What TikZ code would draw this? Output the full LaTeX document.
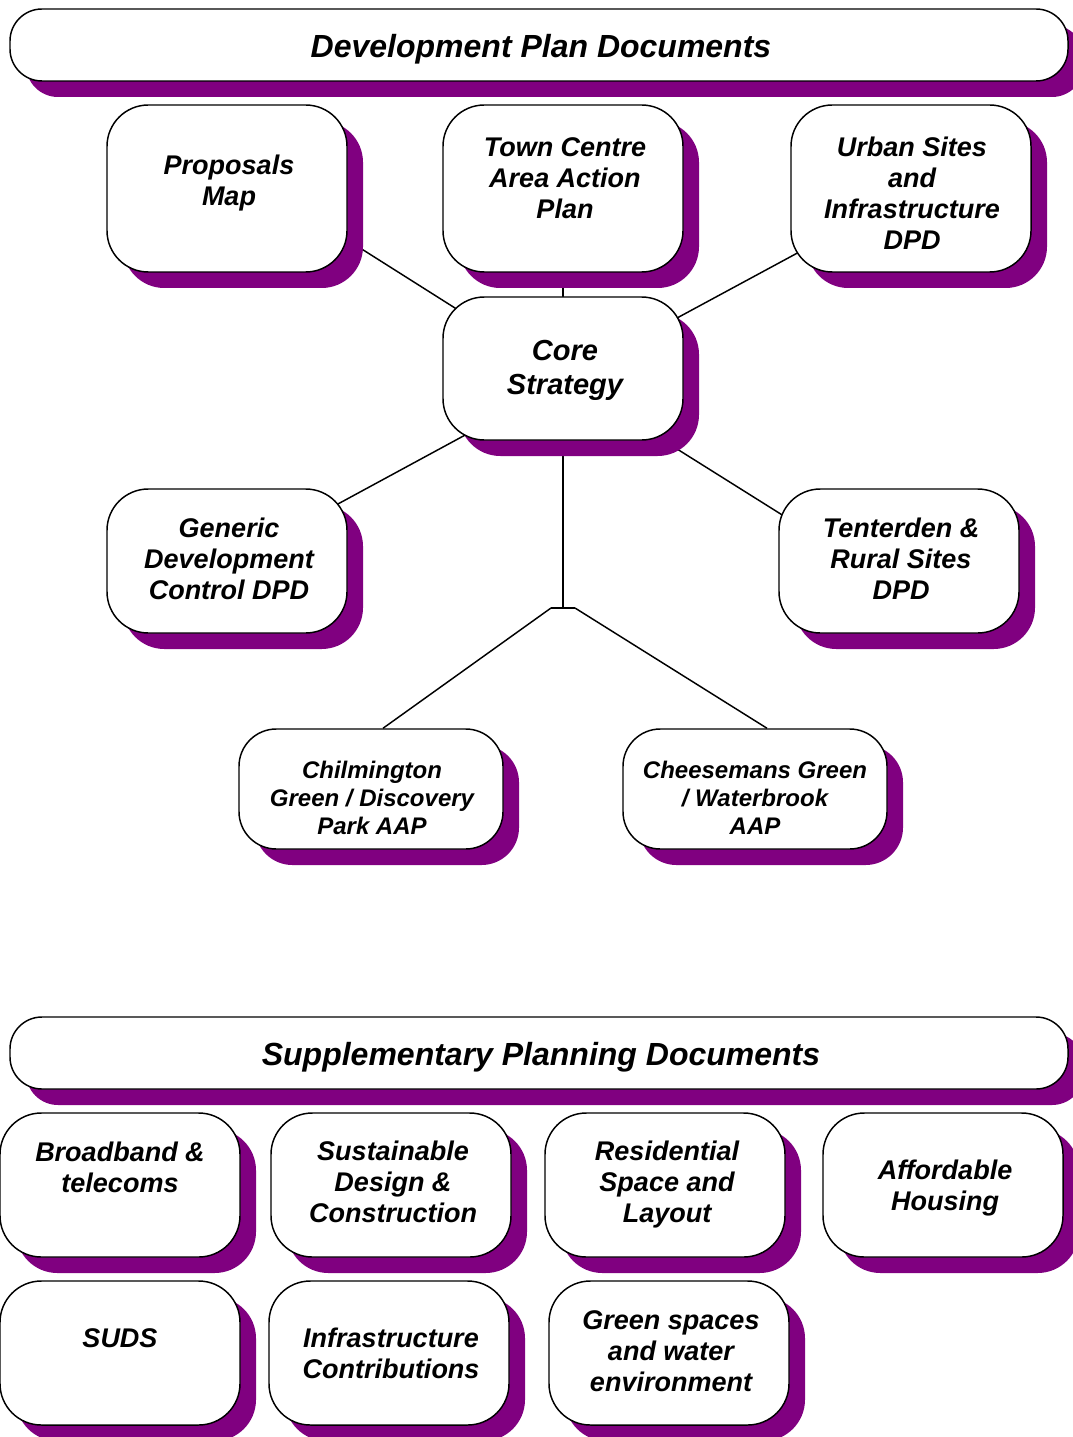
\documentclass[tikz,border=0pt]{standalone}
\usepackage{fontspec}
\setmainfont{Liberation Sans}
\usetikzlibrary{shadows,backgrounds,calc}
\definecolor{shadowc}{HTML}{800080}
\tikzset{
  x=0.75pt, y=-0.75pt,
  box/.style={draw=black, fill=white, line width=1.1pt, rounded corners=31pt,
    minimum width=#1, inner sep=0pt,
    general shadow={fill=shadowc, shadow xshift=12pt, shadow yshift=-12pt}},
  banner/.style={draw=black, fill=white, line width=1.1pt, rounded corners=24pt,
    minimum width=793.5pt, minimum height=54pt, inner sep=0pt,
    general shadow={fill=shadowc, shadow xshift=12pt, shadow yshift=-12pt}},
  txt/.style={align=center, inner sep=0pt, font=\bfseries\itshape\fontsize{20.25pt}{23.25pt}\selectfont},
  txtl/.style={align=center, inner sep=0pt, font=\bfseries\itshape\fontsize{24pt}{28pt}\selectfont},
  txtc/.style={align=center, inner sep=0pt, font=\bfseries\itshape\fontsize{21.75pt}{25.5pt}\selectfont},
  txts/.style={align=center, inner sep=0pt, font=\bfseries\itshape\fontsize{18pt}{21pt}\selectfont},
  conn/.style={draw=black, line width=1.1pt}
}
\begin{document}
\begin{tikzpicture}
\useasboundingbox (0,0) rectangle (1072,1437);
% banners
\node[banner] (dpd) at (539,45) {};
\node[txtl] at (541,49) {Development Plan Documents};
\node[banner] (spd) at (539,1053) {};
\node[txtl] at (541,1057) {Supplementary Planning Documents};
% DPD boxes
\node[box=180pt, minimum height=125.25pt] (pm) at (227,188.5) {};
\node[txt] at (229,183) {Proposals\\Map};
\node[box=180pt, minimum height=125.25pt] (tc) at (563,188.5) {};
\node[txt] at (565,178) {Town Centre\\Area Action\\Plan};
\node[box=180pt, minimum height=125.25pt] (us) at (911,188.5) {};
\node[txt] at (912,193) {Urban Sites\\and\\Infrastructure\\DPD};
\node[box=180pt, minimum height=107.25pt] (cs) at (563,368.5) {};
\node[txtc] at (565,370) {Core\\Strategy};
\node[box=180pt, minimum height=108pt] (gd) at (227,561) {};
\node[txt] at (229,559) {Generic\\Development\\Control DPD};
\node[box=180pt, minimum height=108pt] (tr) at (899,561) {};
\node[txt] at (901,559) {Tenterden \&\\Rural Sites\\DPD};
\node[box=198pt, minimum height=90pt, rounded corners=28pt] (ch) at (371,789) {};
\node[txts] at (372,798) {Chilmington\\Green / Discovery\\Park AAP};
\node[box=198pt, minimum height=90pt, rounded corners=28pt] (cg) at (755,789) {};
\node[txts] at (755,798) {Cheesemans Green\\/ Waterbrook\\AAP};
% SPD boxes
\node[box=180pt, minimum height=108pt] (bb) at (120,1185) {};
\node[txt] at (120,1167) {Broadband \&\\telecoms};
\node[box=180pt, minimum height=108pt] (sd) at (391,1185) {};
\node[txt] at (393,1182) {Sustainable\\Design \&\\Construction};
\node[box=180pt, minimum height=108pt] (rs) at (665,1185) {};
\node[txt] at (667,1185) {Residential\\Space and\\Layout};
\node[box=180pt, minimum height=108pt] (ah) at (943,1185) {};
\node[txt] at (945,1188) {Affordable\\Housing};
\node[box=180pt, minimum height=108pt] (su) at (120,1353) {};
\node[txt] at (120,1338) {SUDS};
\node[box=180pt, minimum height=108pt] (ic) at (389,1353) {};
\node[txt] at (391,1353) {Infrastructure\\Contributions};
\node[box=180pt, minimum height=108pt] (gs) at (669,1353) {};
\node[txt] at (671,1351) {Green spaces\\and water\\environment};
% junction
\coordinate (jn) at (563,608);
\coordinate (jl) at (551,608);
\coordinate (jr) at (575,608);
\begin{scope}[on background layer]
\draw[conn] ([shift={(113,46.8)}]pm.center) -- ([shift={(-93,-51)}]cs.center);
\draw[conn] (tc.center) -- (cs.center);
\draw[conn] ([shift={(-91,52.3)}]us.center) -- ([shift={(97,-41.3)}]cs.center);
\draw[conn] ([shift={(93,-47.3)}]gd.center) -- ([shift={(-83,58.5)}]cs.center);
\draw[conn] ([shift={(97,69.8)}]cs.center) -- ([shift={(-104,-38)}]tr.center);
\draw[conn] (cs.center) -- (jn);
\draw[conn] (jl) -- (jr);
\draw[conn] (jl) -- ([shift={(12,0)}]ch.north);
\draw[conn] (jr) -- ([shift={(12,0)}]cg.north);
\end{scope}
\end{tikzpicture}
\end{document}
